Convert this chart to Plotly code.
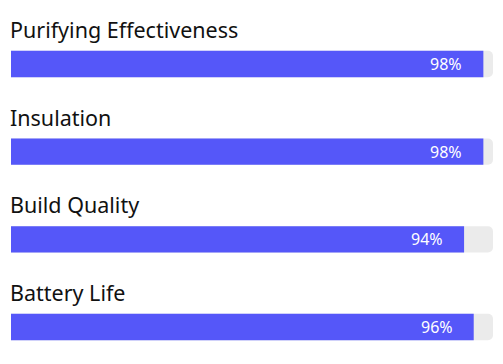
import plotly.graph_objects as go

categories = ["Purifying Effectiveness", "Insulation", "Build Quality", "Battery Life"]
values = [98, 98, 94, 96]
max_value = 100

positions = list(range(len(categories)))
bar_w = 0.30

fig = go.Figure()
fig.add_trace(go.Bar(
    x=[max_value] * len(categories), y=positions, orientation="h",
    width=bar_w, marker=dict(color="#EBEBEB", line=dict(width=0), cornerradius=5),
    hoverinfo="skip", showlegend=False,
))
fig.add_trace(go.Bar(
    x=values, y=positions, orientation="h",
    width=bar_w, marker=dict(color="#5557F9", line=dict(width=0), cornerradius=5),
    hoverinfo="skip", showlegend=False,
))

for i, (c, v) in enumerate(zip(categories, values)):
    fig.add_annotation(x=0, y=i - bar_w / 2, xref="x", yref="y", text=c,
                       showarrow=False, xanchor="left", yanchor="bottom",
                       yshift=5, xshift=-3,
                       font=dict(family="Noto Sans", size=21.5, color="#111111"))
    fig.add_annotation(x=v, y=i, xref="x", yref="y", text=f"{v}%",
                       showarrow=False, xanchor="right", yanchor="middle",
                       xshift=-19,
                       font=dict(family="Noto Sans", size=16, color="#FFFFFF"))

fig.update_layout(
    width=503, height=364,
    margin=dict(l=11, r=10, t=0, b=0),
    barmode="overlay",
    plot_bgcolor="white", paper_bgcolor="white",
    xaxis=dict(range=[0, max_value], visible=False, fixedrange=True),
    yaxis=dict(range=[3.422, -0.730], visible=False, fixedrange=True),
)

fig.write_html("out.html", config={"displayModeBar": False},
               post_script="document.body.style.margin='0';document.body.style.padding='0';")
